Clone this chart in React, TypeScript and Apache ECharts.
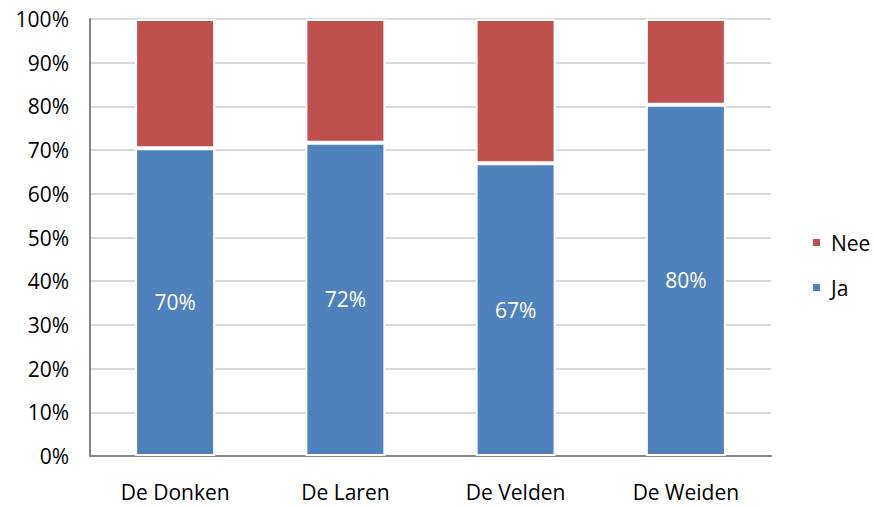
import React, { useEffect, useRef } from "react";
import * as echarts from "echarts";

const categories = ["De Donken", "De Laren", "De Velden", "De Weiden"];
const jaValues = [70.4, 71.7, 67.0, 80.4];
const neeValues = [29.6, 28.3, 33.0, 19.6];
const yTicks = [0, 10, 20, 30, 40, 50, 60, 70, 80, 90, 100];

const FONT = "Open Sans";
const FS = 21;

export default function App() {
  const ref = useRef<HTMLDivElement>(null);
  useEffect(() => {
    if (!ref.current) return;
    const chart = echarts.init(ref.current, undefined, { renderer: "svg" });
    chart.setOption({
      animation: false,
      textStyle: { fontFamily: FONT },
      grid: { left: 90, right: 103, top: 19, bottom: 51, containLabel: false },
      legend: {
        orient: "vertical",
        left: 806,
        top: 227,
        itemWidth: 9,
        itemHeight: 9,
        itemGap: 24,
        icon: "rect",
        data: ["Nee", "Ja"],
        textStyle: { fontFamily: FONT, fontSize: FS, color: "#000", padding: [0, 0, 0, 5] },
      },
      xAxis: {
        type: "category",
        data: categories,
        axisLine: { lineStyle: { color: "#868686", width: 2 } },
        axisTick: { show: false },
        axisLabel: { fontFamily: FONT, fontSize: FS, color: "#000", margin: 25, lineHeight: 22 },
      },
      yAxis: {
        type: "value",
        min: yTicks[0],
        max: yTicks[yTicks.length - 1],
        interval: 10,
        axisLine: { show: true, lineStyle: { color: "#868686", width: 2 } },
        axisTick: { show: false },
        splitLine: { lineStyle: { color: "#d9d9d9", width: 2 } },
        axisLabel: {
          fontFamily: FONT,
          fontSize: FS,
          color: "#000",
          margin: 21,
          formatter: (v: number) => v + "%",
        },
      },
      series: [
        {
          name: "Ja",
          type: "bar",
          stack: "total",
          data: jaValues,
          barWidth: 80,
          itemStyle: { color: "#4f81bd", borderColor: "#fff", borderWidth: 2 },
          label: {
            show: true,
            position: "inside",
            color: "#fff",
            fontFamily: FONT,
            fontSize: FS,
            formatter: (p: any) => Math.round(p.value) + "%",
          },
        },
        {
          name: "Nee",
          type: "bar",
          stack: "total",
          data: neeValues,
          barWidth: 80,
          itemStyle: { color: "#c0504d", borderColor: "#fff", borderWidth: 2 },
        },
      ],
    });
    return () => chart.dispose();
  }, []);
  return <div ref={ref} style={{ width: 874, height: 507, position: "absolute", left: 0, top: 0 }} />;
}
